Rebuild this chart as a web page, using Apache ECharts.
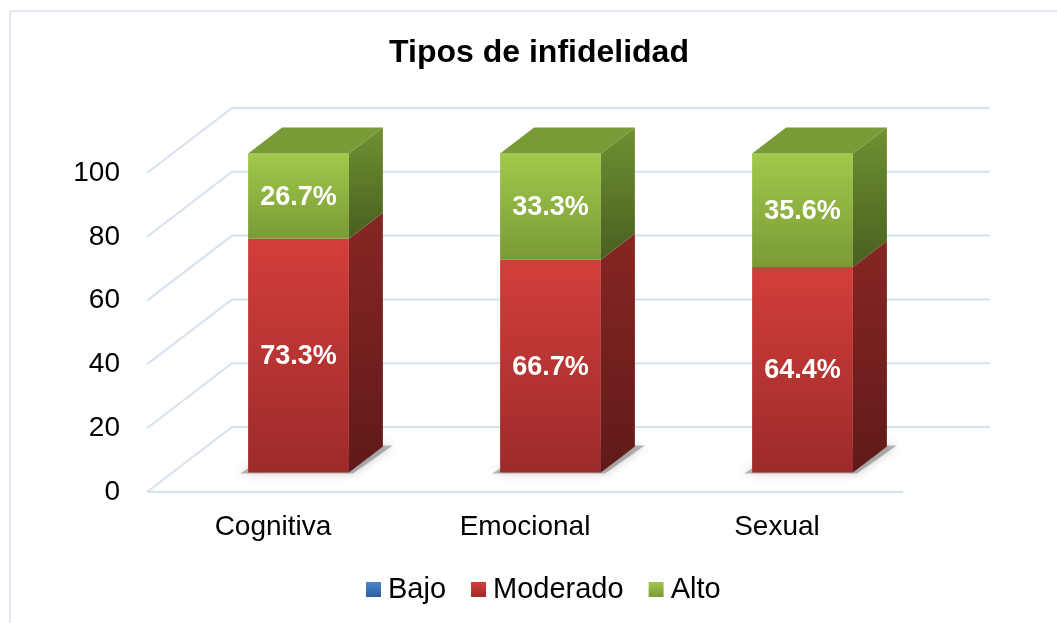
<!DOCTYPE html>
<html>
<head>
<meta charset="utf-8">
<script src="https://cdn.jsdelivr.net/npm/echarts@6/dist/echarts.min.js"></script>
<style>
html,body{margin:0;padding:0;background:#fff;}
#chart{width:1057px;height:623px;}
</style>
</head>
<body>
<div id="chart"></div>
<script>
// ---- data ----
const categories = ['Cognitiva', 'Emocional', 'Sexual'];
const seriesNames = ['Bajo', 'Moderado', 'Alto'];
const bajo = [0, 0, 0];
const moderado = [73.3, 66.7, 64.4];
const alto = [26.7, 33.3, 35.6];
const yTicks = [0, 20, 40, 60, 80, 100];

// ---- layout / style constants ----
const FONT = '"Liberation Sans", Arial, sans-serif';
const DX = 85, DY = -65;           // full depth vector of the 3D box
const FRONT = 0.3, BACK = 0.7;     // bar depth position
const BARW = 0.4;                  // bar width as fraction of band
const GRID = '#d7e1f0';

const G = (a, b) => new echarts.graphic.LinearGradient(0, 0, 0, 1, [
  { offset: 0, color: a }, { offset: 1, color: b }]);

const styles = {
  Bajo:     { front: ['#4a86d0', '#2c5e9e'], side: ['#2e5a94', '#1d3d66'], top: '#3a6fb5' },
  Moderado: { front: ['#d33e3b', '#9c2b2a'], side: ['#872624', '#601a19'], top: '#b8322f' },
  Alto:     { front: ['#a1c94b', '#7b9a36'], side: ['#6f9132', '#495f20'], top: '#789b37' }
};

const valueArrays = [bajo, moderado, alto];
const totals = categories.map((c, i) => valueArrays.reduce((s, a) => s + a[i], 0));

// stacked segments
const stackedData = [];
const base = categories.map(() => 0);
valueArrays.forEach((arr, k) => {
  stackedData.push(arr.map((v, i) => {
    const s = base[i];
    base[i] += v;
    return [i, s, s + v];
  }));
});

function barRender(name) {
  const st = styles[name];
  return function (params, api) {
    const cat = api.value(0), s = api.value(1), e = api.value(2);
    if (e - s <= 1e-9) return null;
    const band = api.size([1, 0])[0];
    const pb = api.coord([cat, s]);
    const pt = api.coord([cat, e]);
    const hw = band * BARW / 2;
    const ox = DX * FRONT, oy = DY * FRONT;
    const ddx = DX * (BACK - FRONT), ddy = DY * (BACK - FRONT);
    const x0 = pb[0] - hw + ox, x1 = pb[0] + hw + ox;
    const yb = pb[1] + oy, yt = pt[1] + oy;
    const children = [
      { type: 'rect', shape: { x: x0, y: yt, width: x1 - x0, height: yb - yt },
        style: { fill: G(st.front[0], st.front[1]) } },
      { type: 'polygon', shape: { points: [[x1, yb], [x1, yt], [x1 + ddx, yt + ddy], [x1 + ddx, yb + ddy]] },
        style: { fill: G(st.side[0], st.side[1]) } }
    ];
    if (e >= totals[cat] - 1e-6) {
      children.push({ type: 'polygon',
        shape: { points: [[x0, yt], [x1, yt], [x1 + ddx, yt + ddy], [x0 + ddx, yt + ddy]] },
        style: { fill: st.top } });
    }
    children.push({ type: 'text',
      style: { text: (e - s).toFixed(1) + '%', x: (x0 + x1) / 2, y: (yt + yb) / 2 + 1,
        fill: '#ffffff', fontSize: 27, fontWeight: 'bold', fontFamily: FONT,
        align: 'center', verticalAlign: 'middle' } });
    return { type: 'group', children: children };
  };
}

const series = [];
// walls / gridlines
series.push({
  type: 'custom', name: 'walls', silent: true, z: 1,
  data: yTicks.map(v => [0, v]),
  renderItem: function (params, api) {
    const cs = params.coordSys;
    const y = api.coord([0, api.value(1)])[1];
    const x = cs.x, w = cs.width;
    const children = [{ type: 'polyline',
      shape: { points: [[x, y], [x + DX, y + DY], [x + DX + w + 2, y + DY]] },
      style: { stroke: GRID, lineWidth: 2, fill: null } }];
    if (api.value(1) === 0) {
      children.push({ type: 'line', shape: { x1: x, y1: y, x2: x + w, y2: y },
        style: { stroke: GRID, lineWidth: 2 } });
    }
    return { type: 'group', children: children };
  }
});
// shadows
series.push({
  type: 'custom', name: 'shadow', silent: true, z: 2,
  data: categories.map((c, i) => [i, 0]),
  renderItem: function (params, api) {
    const cat = api.value(0);
    const band = api.size([1, 0])[0];
    const p = api.coord([cat, 0]);
    const hw = band * BARW / 2;
    const ox = DX * FRONT, oy = DY * FRONT;
    const ddx = DX * (BACK - FRONT), ddy = DY * (BACK - FRONT);
    const x0 = p[0] - hw + ox, x1 = p[0] + hw + ox, yb = p[1] + oy;
    return { type: 'polygon',
      shape: { points: [[x0 - 8, yb + 1], [x1 + 4, yb + 1], [x1 + ddx + 10, yb + ddy - 1], [x0 + ddx, yb + ddy]] },
      style: { fill: 'rgba(60,60,60,0.35)', shadowBlur: 10, shadowColor: 'rgba(0,0,0,0.55)' } };
  }
});
seriesNames.forEach((name, k) => {
  series.push({
    type: 'custom', name: name, z: 3 + k,
    itemStyle: { color: G(styles[name].front[0], styles[name].front[1]) },
    data: stackedData[k],
    encode: { x: 0, y: [1, 2] },
    renderItem: barRender(name)
  });
});

const chart = echarts.init(document.getElementById('chart'), null, { renderer: 'canvas' });
chart.setOption({
  animation: false,
  backgroundColor: '#ffffff',
  title: {
    text: 'Tipos de infidelidad', left: 534, textAlign: 'center', top: 32,
    textStyle: { fontFamily: FONT, fontSize: 32, fontWeight: 'bold', color: '#000' }
  },
  legend: {
    bottom: 14, left: 361, icon: 'rect', itemWidth: 15, itemHeight: 15, itemGap: 25,
    textStyle: { fontFamily: FONT, fontSize: 29, color: '#000', padding: [0, 0, 0, 2] },
    data: seriesNames.map(n => ({ name: n, itemStyle: { color: G(styles[n].front[0], styles[n].front[1]) } }))
  },
  graphic: [
    { type: 'line', shape: { x1: 10, y1: 11, x2: 1057, y2: 11 }, style: { stroke: '#d9e1ee', lineWidth: 1.5 }, silent: true },
    { type: 'line', shape: { x1: 10, y1: 11, x2: 10, y2: 623 }, style: { stroke: '#d9e1ee', lineWidth: 1.5 }, silent: true }
  ],
  grid: { left: 147, right: 154, top: 173, bottom: 131, containLabel: false },
  xAxis: {
    type: 'category', data: categories,
    axisLine: { show: false }, axisTick: { show: false }, splitLine: { show: false },
    axisLabel: { fontFamily: FONT, fontSize: 28, color: '#000', margin: 21 }
  },
  yAxis: {
    type: 'value', min: 0, max: 100, interval: 20,
    axisLine: { show: false }, axisTick: { show: false }, splitLine: { show: false },
    axisLabel: { fontFamily: FONT, fontSize: 28, color: '#000', margin: 27 }
  },
  series: series
});
</script>
</body>
</html>
